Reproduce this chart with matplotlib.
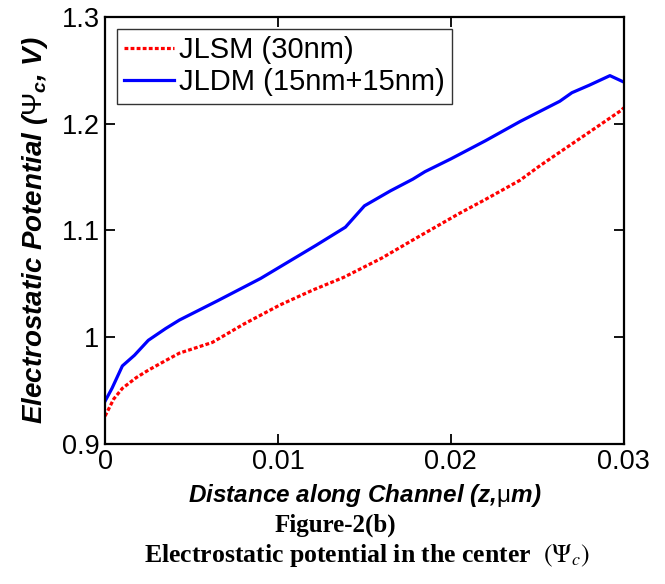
import matplotlib
matplotlib.use("Agg")
import matplotlib.pyplot as plt

z_jlsm = [0.0, 0.0005, 0.001, 0.0018, 0.0025, 0.0035, 0.0043, 0.0062, 0.008, 0.0101,
          0.012, 0.0138, 0.016, 0.0178, 0.0205, 0.022, 0.024, 0.0251, 0.026, 0.028, 0.0299, 0.030]
v_jlsm = [0.926, 0.942, 0.952, 0.962, 0.969, 0.978, 0.985, 0.995, 1.012, 1.030,
          1.044, 1.056, 1.074, 1.091, 1.116, 1.129, 1.147, 1.160, 1.170, 1.192, 1.213, 1.215]

z_jldm = [0.0, 0.0004, 0.001, 0.0017, 0.0025, 0.0035, 0.0043, 0.0065, 0.009, 0.0122,
          0.0139, 0.015, 0.0165, 0.0178, 0.0185, 0.020, 0.022, 0.024, 0.0263, 0.027,
          0.028, 0.0292, 0.030]
v_jldm = [0.940, 0.952, 0.973, 0.983, 0.997, 1.008, 1.016, 1.034, 1.055, 1.086,
          1.103, 1.123, 1.137, 1.148, 1.155, 1.167, 1.184, 1.202, 1.221, 1.229,
          1.236, 1.245, 1.239]

xticks = [0, 0.01, 0.02, 0.03]
xticklabels = ["0", "0.01", "0.02", "0.03"]
yticks = [0.9, 1.0, 1.1, 1.2, 1.3]
yticklabels = ["0.9", "1", "1.1", "1.2", "1.3"]

plt.rcParams['font.family'] = ['Liberation Sans', 'DejaVu Sans']
plt.rcParams['mathtext.fontset'] = 'custom'
plt.rcParams['mathtext.rm'] = 'Liberation Sans'
plt.rcParams['mathtext.it'] = 'Liberation Sans:italic:bold'
plt.rcParams['mathtext.bf'] = 'Liberation Sans:bold'

fig = plt.figure(figsize=(6.65, 5.84), dpi=100)
ax = fig.add_axes([0.158, 0.240, 0.780, 0.731])

ax.plot(z_jlsm, v_jlsm, color='#ff0000', linestyle=(0, (1.2, 0.7)), linewidth=2.3,
        label='JLSM (30nm)')
ax.plot(z_jldm, v_jldm, color='#0000ff', linestyle='-', linewidth=2.3,
        label='JLDM (15nm+15nm)')

ax.set_xlim(0, 0.03)
ax.set_ylim(0.9, 1.3)
ax.set_xticks(xticks)
ax.set_xticklabels(xticklabels)
ax.set_yticks(yticks)
ax.set_yticklabels(yticklabels)
ax.tick_params(direction='in', length=7, width=1.3, top=True, right=True,
               labelsize=19.5, pad=4)
for s in ax.spines.values():
    s.set_linewidth(1.6)

ax.set_xlabel(r'Distance along Channel (z,$\mathrm{\mu}$m)', fontsize=17.5,
              fontweight='bold', fontstyle='italic', labelpad=5)
ax.set_ylabel(r'Electrostatic Potential ($\mathit{\Psi_c}$, V)', fontsize=20,
              fontweight='bold', fontstyle='italic', labelpad=8)

leg = ax.legend(loc='upper left', fontsize=21, frameon=True, fancybox=False,
                edgecolor='black', handlelength=1.7, handletextpad=0.2,
                borderaxespad=0.4, labelspacing=0.15, borderpad=0.25)
leg.get_frame().set_linewidth(1.0)

fig.text(0.505, 0.100, 'Figure-2(b)', ha='center', va='center', fontsize=18,
         fontweight='bold', family=['Liberation Serif'])
fig.text(0.552, 0.048, r'Electrostatic potential in the center  $\left(\Psi_c\right)$',
         ha='center', va='center', fontsize=18.5, fontweight='bold',
         family=['Liberation Serif'], math_fontfamily='stix')

fig.savefig('out.png', dpi=100)
